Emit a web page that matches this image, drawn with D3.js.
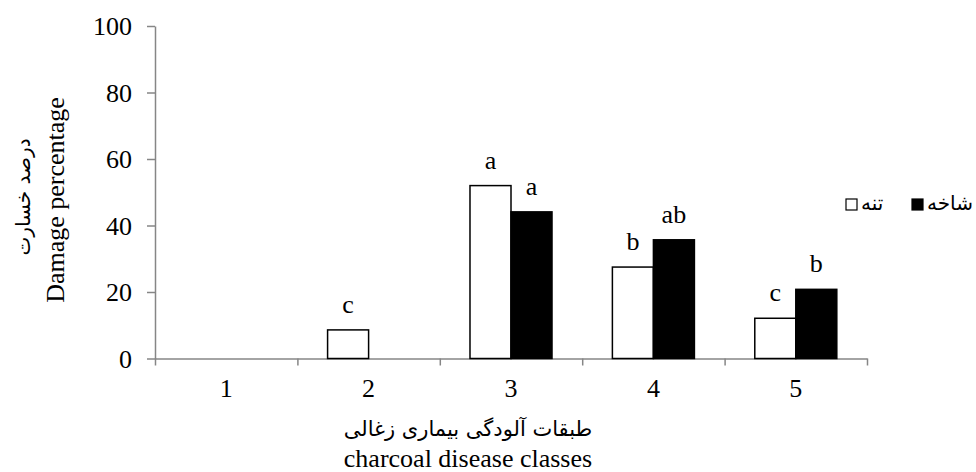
<!DOCTYPE html>
<html>
<head>
<meta charset="utf-8">
<script src="https://cdn.jsdelivr.net/npm/d3@7"></script>
<style>
  body { margin: 0; background: #fff; }
  .serif { font-family: "Liberation Serif", "Times New Roman", serif; }
  .fa { font-family: "DejaVu Sans", sans-serif; }
</style>
</head>
<body>
<script>
// data
var classes = ["1", "2", "3", "4", "5"];
var seriesNames = ["تنه", "شاخه"];
var stemValues = [0, 8.6, 52.0, 27.5, 12.1];     // white bars
var branchValues = [0, 0, 44.1, 35.7, 20.8];     // black bars
var stemLetters = ["", "c", "a", "b", "c"];
var branchLetters = ["", "", "a", "ab", "b"];
var yTicks = [0, 20, 40, 60, 80, 100];

var width = 976, height = 472;
var margin = {top: 26, left: 155, right: 109, bottom: 113.5};
var plotW = width - margin.left - margin.right,
    plotH = height - margin.top - margin.bottom;

var svg = d3.select("body").append("svg")
    .attr("width", width)
    .attr("height", height);

var g = svg.append("g")
    .attr("transform", "translate(" + margin.left + "," + margin.top + ")");

var x = d3.scaleBand()
    .domain(classes)
    .range([0, plotW])
    .paddingInner(0.424)
    .paddingOuter(0.212);

var xSub = d3.scaleBand()
    .domain([0, 1])
    .range([0, x.bandwidth()]);

var xEdge = d3.scaleLinear()
    .domain([0, classes.length])
    .range([0, plotW]);

var y = d3.scaleLinear()
    .domain([0, 100])
    .range([plotH, 0]);

var axisColor = "#868686";

// y axis
var yAxis = g.append("g")
    .attr("class", "serif")
    .call(d3.axisLeft(y).tickValues(yTicks).tickSize(8).tickPadding(15).tickSizeOuter(0));
yAxis.select(".domain").attr("stroke", axisColor).attr("stroke-width", 1.5);
yAxis.selectAll(".tick line").attr("stroke", axisColor).attr("stroke-width", 1.5);
yAxis.selectAll("text")
    .attr("font-size", 26)
    .attr("fill", "#000")
    .attr("dy", "0.34em");

// x axis: tick marks at the class boundaries
var xAxis = g.append("g")
    .attr("transform", "translate(0," + plotH + ")")
    .call(d3.axisBottom(xEdge).ticks(classes.length).tickFormat("").tickSize(7).tickSizeOuter(0));
xAxis.select(".domain").attr("stroke", axisColor).attr("stroke-width", 1.5);
xAxis.selectAll(".tick line").attr("stroke", axisColor).attr("stroke-width", 1.5);

// x labels
var xLab = g.append("g")
    .attr("class", "serif")
    .attr("transform", "translate(0," + plotH + ")")
    .call(d3.axisBottom(x).tickSize(0));
xLab.select(".domain").remove();
xLab.selectAll("text")
    .attr("font-size", 26)
    .attr("fill", "#000")
    .attr("y", 38.5)
    .attr("dy", 0);

// bars
var rows = classes.map(function(c, i) {
  return {cls: c, vals: [stemValues[i], branchValues[i]], letters: [stemLetters[i], branchLetters[i]]};
});

var grp = g.selectAll(".grp")
    .data(rows)
    .enter().append("g")
    .attr("transform", function(d) { return "translate(" + x(d.cls) + ",0)"; });

grp.selectAll("rect")
    .data(function(d) { return d.vals.map(function(v, k) { return {v: v, k: k}; }); })
    .enter().filter(function(d) { return d.v > 0; })
    .append("rect")
    .attr("x", function(d) { return xSub(d.k); })
    .attr("width", xSub.bandwidth())
    .attr("y", function(d) { return y(d.v); })
    .attr("height", function(d) { return y(0) - y(d.v); })
    .attr("fill", function(d) { return d.k === 0 ? "#fff" : "#000"; })
    .attr("stroke", "#000")
    .attr("stroke-width", 1.5);

grp.selectAll(".lbl")
    .data(function(d) { return d.vals.map(function(v, k) { return {v: v, k: k, t: d.letters[k]}; }); })
    .enter().append("text")
    .attr("class", "serif")
    .attr("x", function(d) { return xSub(d.k) + xSub.bandwidth() / 2; })
    .attr("y", function(d) { return y(d.v) - 17; })
    .attr("text-anchor", "middle")
    .attr("font-size", 26)
    .text(function(d) { return d.t; });

// axis titles
var xMid = 313;
svg.append("text")
    .attr("class", "fa")
    .attr("x", margin.left + xMid)
    .attr("y", 436)
    .attr("text-anchor", "middle")
    .attr("font-size", 21)
    .text("طبقات آلودگی بیماری زغالی");

svg.append("text")
    .attr("class", "serif")
    .attr("x", margin.left + xMid)
    .attr("y", 467)
    .attr("text-anchor", "middle")
    .attr("font-size", 26)
    .text("charcoal disease classes");

svg.append("text")
    .attr("class", "serif")
    .attr("transform", "translate(64,200) rotate(-90)")
    .attr("text-anchor", "middle")
    .attr("font-size", 26)
    .text("Damage percentage");

svg.append("text")
    .attr("class", "fa")
    .attr("transform", "translate(30,197) rotate(-90)")
    .attr("text-anchor", "middle")
    .attr("font-size", 20)
    .text("درصد خسارت");

// legend
var legendX = [846, 912];
var legend = svg.selectAll(".leg")
    .data(seriesNames)
    .enter().append("g")
    .attr("transform", function(d, i) { return "translate(" + legendX[i] + ",199)"; });

legend.append("rect")
    .attr("width", 11)
    .attr("height", 11)
    .attr("fill", function(d, i) { return i === 0 ? "#fff" : "#000"; })
    .attr("stroke", "#000")
    .attr("stroke-width", 1.2);

legend.append("text")
    .attr("class", "fa")
    .attr("x", 15)
    .attr("y", 11)
    .attr("font-size", 20)
    .text(function(d) { return d; });
</script>
</body>
</html>
